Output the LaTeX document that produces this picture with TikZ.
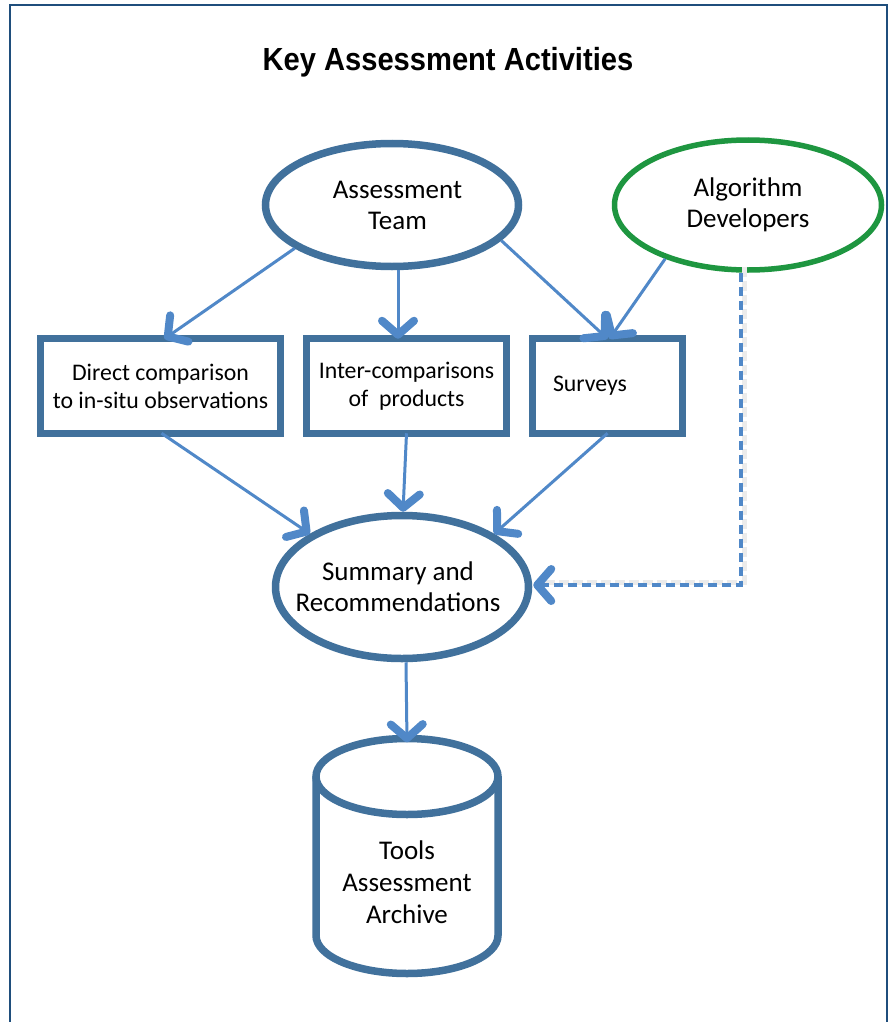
\documentclass[tikz,border=0pt]{standalone}
\usepackage{fontspec}
\setmainfont{Carlito}
\newfontfamily\titlefont{Liberation Sans}
\usetikzlibrary{arrows.meta,shapes.geometric,calc}
\definecolor{frameblue}{HTML}{1F4E7C}
\definecolor{boxblue}{HTML}{41719C}
\definecolor{arrowblue}{HTML}{5088C8}
\definecolor{devgreen}{HTML}{1E9640}
\tikzset{
  shape line/.style={draw=boxblue, line width=7.5pt},
  oval/.style={shape line, ellipse, inner sep=0pt, align=center,
    font=\fontsize{27}{31}\selectfont},
  activity/.style={shape line, rectangle, inner sep=0pt, align=center,
    minimum height=95pt, font=\fontsize{23.8}{28}\selectfont},
  flow/.style={draw=arrowblue, line width=3pt,
    -{Straight Barb[length=14pt,width=32pt,line width'=8pt,round]}},
  dashflow/.style={flow, line width=3.2pt, dash pattern=on 9pt off 5pt},
}
\begin{document}
\begin{tikzpicture}[x=1pt,y=-1pt]
\useasboundingbox (0,0) rectangle (890,1022);
\fill[white] (0,0) rectangle (890,1022);
\draw[frameblue, line width=2.5pt] (10,1024) -- (10,5) -- (887,5) -- (887,1024);

\node (title) at (448,62) {\titlefont\bfseries\fontsize{32}{36}\selectfont\scalebox{0.91}[1]{Key Assessment Activities}};

\node[oval, minimum width=253pt, minimum height=123pt] (team) at (392,205) {\hspace*{11pt}Assessment\\\hspace*{11pt}Team};
\node[oval, draw=devgreen, line width=5.5pt, minimum width=267pt, minimum height=130pt] (dev) at (748,205) {Algorithm\\Developers};

\node[activity, minimum width=240pt] (direct) at (160.5,386) {Direct comparison\\to in-situ observations};
\node[activity, minimum width=200pt] (inter) at (406.5,386) {Inter-comparisons\\of~~products};
\node[activity, minimum width=150pt, text width=109pt, align=left] (surveys) at (607.5,386) {Surveys};

\node[oval, inner xsep=-20pt, minimum width=253pt, minimum height=143pt] (summary) at (402,587) {Summary and\hspace*{8pt}\\Recommendations\hspace*{8pt}};

% archive cylinder
\node[minimum width=182pt, minimum height=235pt, inner sep=0pt] (cyl) at (407,856) {};
\draw[shape line, line join=round, fill=white]
  (316,776.5) -- (316,935.5) arc[start angle=180, end angle=360, x radius=91pt, y radius=38pt] -- (498,776.5);
\draw[shape line] (407,776.5) ellipse [x radius=91pt, y radius=38pt];
\node[align=center, font=\fontsize{27}{32}\selectfont] (archive) at (407,882) {Tools\\Assessment\\Archive};

% connectors
\draw[flow] (team.204) -- ([xshift=4pt,yshift=-4pt]direct.north);
\draw[flow] ([xshift=6pt]team.south) -- ([xshift=-8.5pt,yshift=-4pt]inter.north);
\draw[flow] (team.-18) -- ([yshift=-4pt]surveys.north);
\draw[flow] (dev.213) -- ([xshift=2pt,yshift=-4pt]surveys.north);

\draw[flow] ([xshift=1pt,yshift=4pt]direct.south) -- (summary.150);
\draw[flow] ([yshift=4pt]inter.south) -- ([xshift=1pt]summary.north);
\draw[flow] ([yshift=4pt]surveys.south) -- (summary.30);

\draw[flow] ([xshift=4pt]summary.south) -- ([yshift=-4pt]cyl.north);

\draw[black!8, line width=5pt, dash pattern=on 10pt off 4pt] ($(dev.south)+(-4pt,6pt)$) |- ($(summary.east)+(12pt,5pt)$);
\draw[dashflow] ([xshift=-7pt]dev.south) |- ([xshift=1pt,yshift=2pt]summary.east);
\end{tikzpicture}
\end{document}
